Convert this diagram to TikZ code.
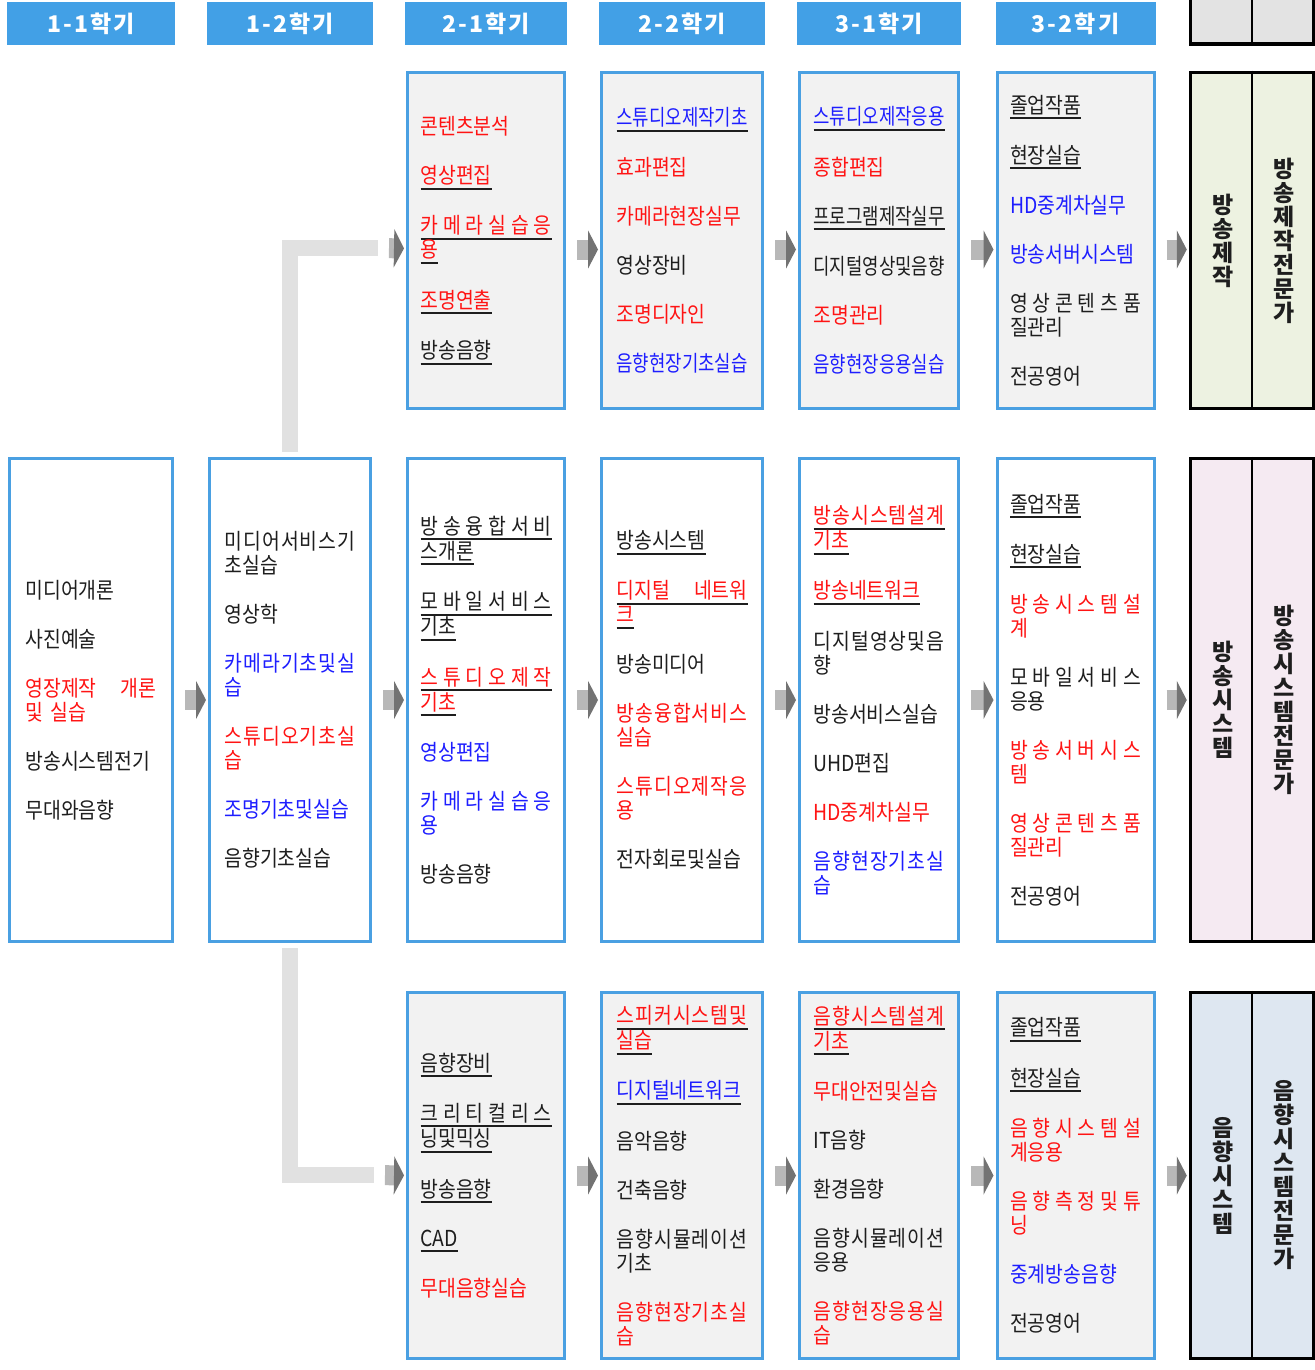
\documentclass[tikz,border=0pt]{standalone}
\usepackage{fontspec}
\setmainfont{Noto Sans CJK KR}
\newfontfamily\tabfam[LetterSpace=9]{Noto Sans CJK KR}
\newfontfamily\itemfam[FakeStretch=0.88]{Noto Sans CJK KR}
\usepackage{tikz}
\usetikzlibrary{arrows.meta}
\definecolor{tabblue} {RGB}{66, 160, 230}
\definecolor{boxline} {RGB}{74, 160, 226}
\definecolor{boxgray} {RGB}{242, 242, 242}
\definecolor{trkgreen}{RGB}{237, 242, 225}
\definecolor{trkpink} {RGB}{245, 234, 242}
\definecolor{trkblue} {RGB}{222, 231, 241}
\definecolor{linkgray}{RGB}{225, 225, 225}
\definecolor{redtxt}  {RGB}{255, 20, 20}
\definecolor{bluetxt} {RGB}{30, 30, 255}
\definecolor{darktext}{RGB}{30, 30, 30}

\newcommand\itemfont{\itemfam\fontsize{22}{24}\selectfont}
\newcommand\rd[1]{\leavevmode\textcolor{redtxt}{#1}}
\newcommand\bl[1]{\leavevmode\textcolor{bluetxt}{#1}}
\newcommand\sq[1]{\leavevmode\scalebox{0.92}[1]{#1}}
\newcommand\spr[1]{\makebox[131pt][s]{\spaceskip=0pt plus 1fil\relax #1}}
\newcommand\uln[1]{\leavevmode\setbox0\hbox{#1}\rlap{\color{darktext}\rule[-6pt]{\wd0}{2pt}}\box0}

\begin{document}
\begin{tikzpicture}[x=1pt, y=-1pt,
  semtab/.style={fill=tabblue, minimum height=43pt, text=white, font=\tabfam\bfseries\fontsize{23}{24}\selectfont},
  course/.style={draw=boxline, line width=3pt, text width=131pt, inner xsep=13pt, align=left, font=\itemfont, text=darktext},
  toprow/.style={course, fill=boxgray, minimum height=336pt},
  midrow/.style={course, fill=white, minimum height=483pt},
  botrow/.style={course, fill=boxgray, minimum height=366pt},
  track/.style={draw=black, line width=3.5pt, minimum width=123pt},
  vlabel/.style={align=center, font=\bfseries\fontsize{23}{24}\selectfont, text=darktext},
  flow/.style={line width=20pt, draw=black!28, -{Triangle[length=10pt, width=38pt, color=black!55]}, shorten <=11pt, shorten >=2pt},
  link/.style={line width=16pt, draw=linkgray}
]
  \useasboundingbox (0,0) rectangle (1314,1370);

  % Semester tabs
  \node[semtab, minimum width=168pt] (H1) at (91,23.5) {1-1학기};
  \node[semtab, minimum width=166pt] (H2) at (290,23.5) {1-2학기};
  \node[semtab, minimum width=162pt] (H3) at (486,23.5) {2-1학기};
  \node[semtab, minimum width=166pt] (H4) at (682,23.5) {2-2학기};
  \node[semtab, minimum width=164pt] (H5) at (879,23.5) {3-1학기};
  \node[semtab, minimum width=160pt] (H6) at (1075.5,23.5) {3-2학기};
  \node[track, fill=black!11, minimum height=48pt] (HX) at (1252,20) {};
  \draw[line width=1.5pt] (HX.north) -- (HX.south);

  % First year
  \node[midrow, minimum width=163pt] (M1) at (91,700) {
    미디어개론\\[25pt]
    사진예술\\[25pt]
    \rd{\spr{영장제작 개론}}\\ \rd{및 실습}\\[25pt]
    방송시스템전기\\[25pt]
    무대와음향};
  \node[midrow, minimum width=161pt] (M2) at (290,700) {
    \spr{미 디 어 서 비 스 기}\\ 초실습\\[25pt]
    영상학\\[25pt]
    \bl{\spr{카 메 라 기 초 및 실}}\\ \bl{습}\\[25pt]
    \rd{\spr{스 튜 디 오 기 초 실}}\\ \rd{습}\\[25pt]
    \bl{조명기초및실습}\\[25pt]
    음향기초실습};

  % Production track
  \node[toprow, minimum width=157pt] (T3) at (486,240.5) {
    \rd{콘텐츠분석}\\[25pt]
    \uln{\rd{영상편집}}\\[25pt]
    \uln{\rd{\spr{카 메 라 실 습 응}}}\\ \uln{\rd{용}}\\[25pt]
    \uln{\rd{조명연출}}\\[25pt]
    \uln{방송음향}};
  \node[toprow, minimum width=161pt] (T4) at (682,240.5) {
    \uln{\bl{\sq{스튜디오제작기초}}}\\[25pt]
    \rd{효과편집}\\[25pt]
    \rd{카메라현장실무}\\[25pt]
    영상장비\\[25pt]
    \rd{조명디자인}\\[25pt]
    \bl{\sq{음향현장기초실습}}};
  \node[toprow, minimum width=159pt] (T5) at (879,240.5) {
    \uln{\bl{\sq{스튜디오제작응용}}}\\[25pt]
    \rd{종합편집}\\[25pt]
    \uln{\sq{프로그램제작실무}}\\[25pt]
    \sq{디지털영상및음향}\\[25pt]
    \rd{조명관리}\\[25pt]
    \bl{\sq{음향현장응용실습}}};
  \node[toprow, minimum width=156pt] (T6) at (1075.5,240.5) {
    \uln{졸업작품}\\[25pt]
    \uln{현장실습}\\[25pt]
    \bl{HD중계차실무}\\[25pt]
    \bl{방송서버시스템}\\[25pt]
    \spr{영 상 콘 텐 츠 품}\\ 질관리\\[25pt]
    전공영어};

  % System track
  \node[midrow, minimum width=157pt] (M3) at (486,700) {
    \uln{\spr{방 송 융 합 서 비}}\\ \uln{스개론}\\[25pt]
    \uln{\spr{모 바 일 서 비 스}}\\ \uln{기초}\\[25pt]
    \uln{\rd{\spr{스 튜 디 오 제 작}}}\\ \uln{\rd{기초}}\\[25pt]
    \bl{영상편집}\\[25pt]
    \bl{\spr{카 메 라 실 습 응}}\\ \bl{용}\\[25pt]
    방송음향};
  \node[midrow, minimum width=161pt] (M4) at (682,700) {
    \uln{방송시스템}\\[25pt]
    \uln{\rd{\spr{디지털 네트워}}}\\ \uln{\rd{크}}\\[25pt]
    방송미디어\\[25pt]
    \rd{\spr{방 송 융 합 서 비 스}}\\ \rd{실습}\\[25pt]
    \rd{\spr{스 튜 디 오 제 작 응}}\\ \rd{용}\\[25pt]
    전자회로및실습};
  \node[midrow, minimum width=159pt] (M5) at (879,700) {
    \uln{\rd{\spr{방 송 시 스 템 설 계}}}\\ \uln{\rd{기초}}\\[25pt]
    \uln{\rd{방송네트워크}}\\[25pt]
    \spr{디 지 털 영 상 및 음}\\ 향\\[25pt]
    방송서비스실습\\[25pt]
    UHD편집\\[25pt]
    \rd{HD중계차실무}\\[25pt]
    \bl{\spr{음 향 현 장 기 초 실}}\\ \bl{습}};
  \node[midrow, minimum width=156pt] (M6) at (1075.5,700) {
    \uln{졸업작품}\\[25pt]
    \uln{현장실습}\\[25pt]
    \rd{\spr{방 송 시 스 템 설}}\\ \rd{계}\\[25pt]
    \spr{모 바 일 서 비 스}\\ 응용\\[25pt]
    \rd{\spr{방 송 서 버 시 스}}\\ \rd{템}\\[25pt]
    \rd{\spr{영 상 콘 텐 츠 품}}\\ \rd{질관리}\\[25pt]
    전공영어};

  % Sound track
  \node[botrow, minimum width=157pt] (B3) at (486,1175.5) {
    \uln{음향장비}\\[25pt]
    \uln{\spr{크 리 티 컬 리 스}}\\ \uln{닝및믹싱}\\[25pt]
    \uln{방송음향}\\[25pt]
    \uln{CAD}\\[25pt]
    \rd{무대음향실습}};
  \node[botrow, minimum width=161pt] (B4) at (682,1175.5) {
    \uln{\rd{\spr{스 피 커 시 스 템 및}}}\\ \uln{\rd{실습}}\\[25pt]
    \uln{\bl{디지털네트워크}}\\[25pt]
    음악음향\\[25pt]
    건축음향\\[25pt]
    \spr{음 향 시 뮬 레 이 션}\\ 기초\\[25pt]
    \rd{\spr{음 향 현 장 기 초 실}}\\ \rd{습}};
  \node[botrow, minimum width=159pt] (B5) at (879,1175.5) {
    \uln{\rd{\spr{음 향 시 스 템 설 계}}}\\ \uln{\rd{기초}}\\[25pt]
    \rd{무대안전및실습}\\[25pt]
    IT음향\\[25pt]
    환경음향\\[25pt]
    \spr{음 향 시 뮬 레 이 션}\\ 응용\\[25pt]
    \rd{\spr{음 향 현 장 응 용 실}}\\ \rd{습}};
  \node[botrow, minimum width=156pt] (B6) at (1075.5,1175.5) {
    \uln{졸업작품}\\[25pt]
    \uln{현장실습}\\[25pt]
    \rd{\spr{음 향 시 스 템 설}}\\ \rd{계응용}\\[25pt]
    \rd{\spr{음 향 측 정 및 튜}}\\ \rd{닝}\\[25pt]
    \bl{중계방송음향}\\[25pt]
    전공영어};

  % Career tracks
  \node[track, fill=trkgreen, minimum height=336pt] (TR1) at (1252,240.5) {};
  \node[track, fill=trkpink, minimum height=483pt] (TR2) at (1252,700) {};
  \node[track, fill=trkblue, minimum height=366pt] (TR3) at (1252,1175.5) {};
  \foreach \t in {TR1, TR2, TR3}
    \draw[line width=1.5pt] (\t.north) -- (\t.south);
  \node[vlabel] (TR1a) at ([xshift=-29pt]TR1.center) {방\\송\\제\\작};
  \node[vlabel] (TR1b) at ([xshift=32pt]TR1.center) {방\\송\\제\\작\\전\\문\\가};
  \node[vlabel] (TR2a) at ([xshift=-29pt]TR2.center) {방\\송\\시\\스\\템};
  \node[vlabel] (TR2b) at ([xshift=32pt]TR2.center) {방\\송\\시\\스\\템\\전\\문\\가};
  \node[vlabel] (TR3a) at ([xshift=-29pt]TR3.center) {음\\향\\시\\스\\템};
  \node[vlabel] (TR3b) at ([xshift=32pt]TR3.center) {음\\향\\시\\스\\템\\전\\문\\가};

  % Branch links
  \coordinate (up) at (378,248);
  \coordinate (dn) at (374,1175);
  \draw[link] ([yshift=5pt]M2.north) |- (up);
  \draw[link] ([yshift=-5pt]M2.south) |- (dn);
  \draw[flow] (up) -- ([yshift=-8pt]T3.west);
  \draw[flow] (dn) -- (B3.west);

  % Flow arrows
  \draw[flow] (M1.east) -- (M2.west);
  \foreach \a/\b in {M2/M3, M3/M4, M4/M5, M5/M6, M6/TR2, B3/B4, B4/B5, B5/B6, B6/TR3}
    \draw[flow] (\a.east) -- (\b.west);
  \foreach \a/\b in {T3/T4, T4/T5, T5/T6, T6/TR1}
    \draw[flow] ([yshift=-9pt]\a.east) -- ([yshift=-9pt]\b.west);
\end{tikzpicture}
\end{document}
